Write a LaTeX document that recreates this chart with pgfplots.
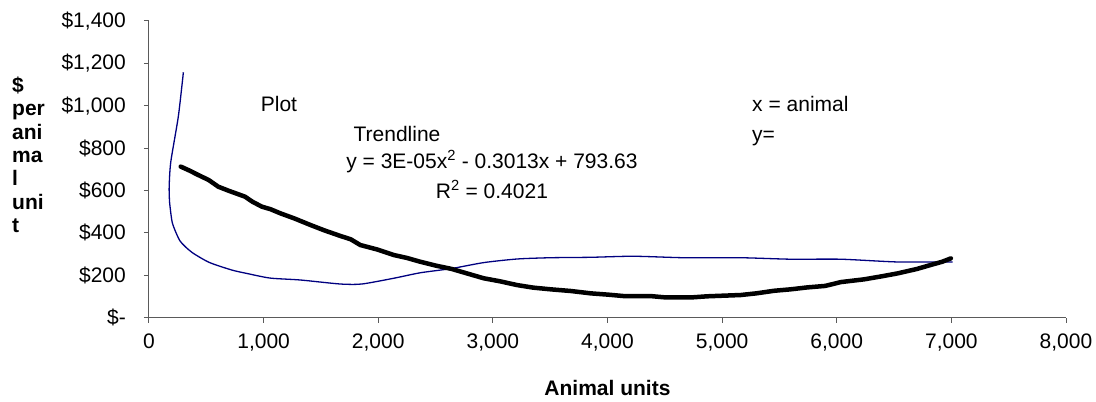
\documentclass[border=0pt]{standalone}
\usepackage{pgfplots}
\pgfplotsset{compat=1.18}
\usepackage{fontspec}
\setmainfont{Liberation Sans}
\usetikzlibrary{calc}
\definecolor{navyline}{RGB}{0,0,128}
\definecolor{axisgray}{RGB}{90,90,90}
\newcommand{\chartfont}{\fontsize{21bp}{25bp}\selectfont}

% cost per animal unit against herd size
\pgfplotstableread{
x y
300 1158
256 950
190 735
176 620
178 560
183 527
205 445
271 362
373 309
525 261
722 225
852 209
1056 187
1319 178
1668 159
1857 159
2134 186
2367 212
2640 232
2920 260
3211 277
3502 283
3852 285
4227 290
4667 283
5162 283
5599 276
6035 276
6530 263
7010 263
}\costdata

% fitted second-order trend
\pgfplotstableread{
x y
277 713
350 695
431 673
520 650
605 618
700 598
838 571
900 548
984 524
1060 512
1144 493
1270 468
1406 438
1530 412
1668 386
1760 370
1843 343
1990 322
2134 296
2250 282
2367 264
2500 246
2641 230
2780 208
2920 186
3060 172
3211 154
3350 142
3502 134
3680 126
3852 115
4000 109
4143 102
4376 102
4500 96
4740 96
4871 101
5162 107
5300 115
5453 127
5600 134
5744 143
5900 150
6035 168
6239 181
6400 196
6530 209
6700 230
6821 249
6920 264
6996 280
}\trenddata

\begin{document}
\chartfont
\begin{tikzpicture}
\begin{axis}[
  name=ax,
  scale only axis,
  width=917bp, height=296.7bp,
  xmin=0, xmax=8000, ymin=0, ymax=1400,
  axis x line*=bottom, axis y line*=left,
  axis line style={axisgray, line width=1bp, -},
  tick align=outside,
  major tick length=5bp,
  tick style={axisgray, line width=1bp},
  xtick={0,1000,...,8000},
  xticklabels={0,{1,000},{2,000},{3,000},{4,000},{5,000},{6,000},{7,000},{8,000}},
  ytick={0,200,...,1400},
  yticklabels={\$-,\$200,\$400,\$600,\$800,{\$1,000},{\$1,200},{\$1,400}},
  every tick label/.append style={font=\chartfont},
  xticklabel style={yshift=-4bp},
  yticklabel style={xshift=-11bp},
  clip=false,
]
\addplot[navyline, line width=1.3bp, smooth, tension=0.4] table[x=x,y=y] {\costdata};
\addplot[black, line width=4.5bp, line join=round, line cap=round] table[x=x,y=y] {\trenddata};

\node[font=\chartfont] at (axis cs:1134,1010) {Plot};
\node[font=\chartfont] at (axis cs:2164,869) {Trendline};
\node[font=\chartfont] at (axis cs:2992,737) {y = 3E-05x\textsuperscript{2} - 0.3013x + 793.63};
\node[font=\chartfont] at (axis cs:2992,606) {R\textsuperscript{2} = 0.4021};
\node[font=\chartfont, anchor=west, inner sep=0pt] at (axis cs:5261,1008) {x = animal};
\node[font=\chartfont, anchor=west, inner sep=0pt] at (axis cs:5261,848) {y=};
\end{axis}

\node[font=\fontsize{21bp}{23.3bp}\selectfont\bfseries, anchor=west, align=left, inner sep=0pt]
  at ($(ax.south west)+(-137bp,163bp)$) {\$\\per\\ani\\ma\\l\\uni\\t};
\node[font=\chartfont\bfseries] at ($(ax.south)+(0,-70bp)$) {Animal units};

\pgfresetboundingbox
\useasboundingbox ($(ax.south west)+(-149bp,-84.3bp)$) rectangle ($(ax.north east)+(30bp,21bp)$);
\end{tikzpicture}
\end{document}
